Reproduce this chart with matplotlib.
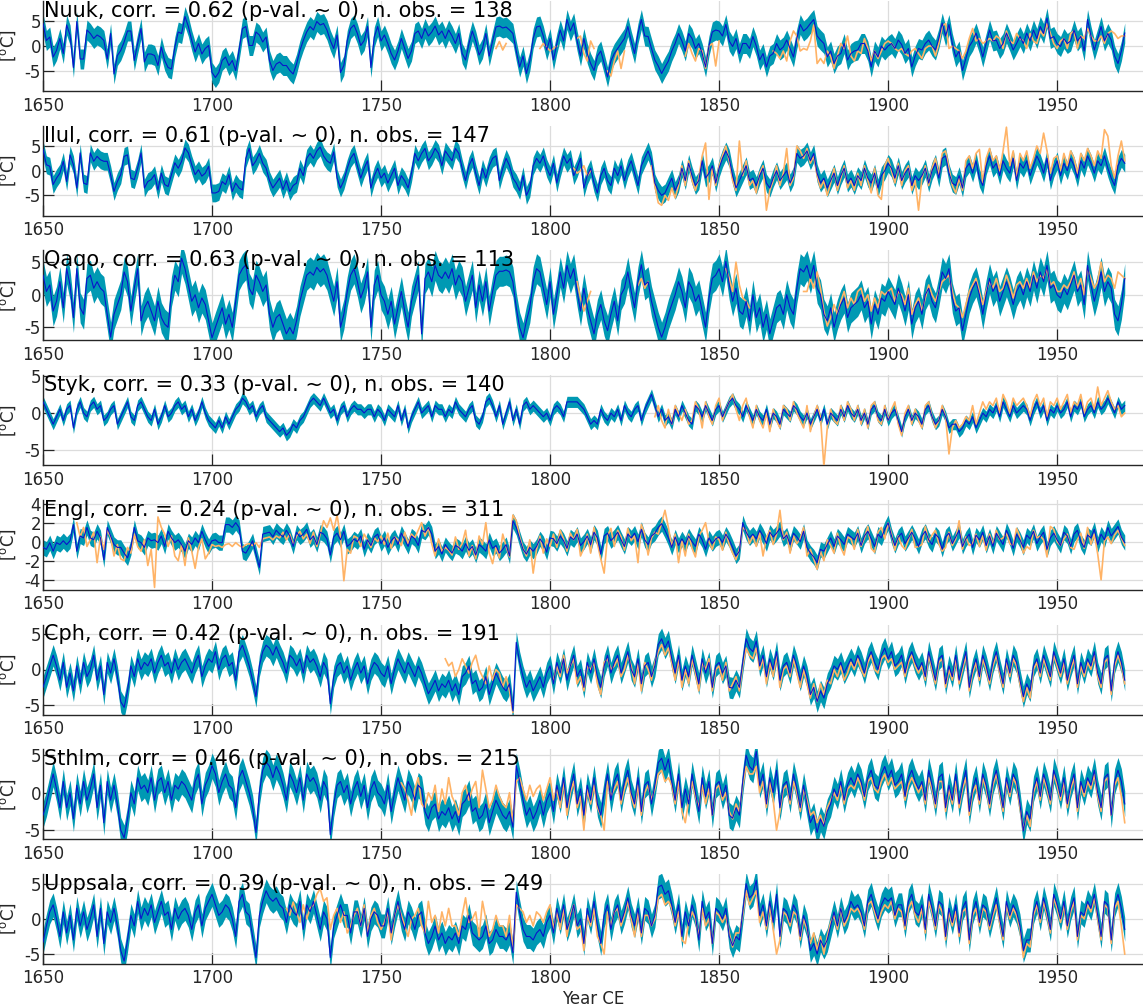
import numpy as np
import matplotlib

matplotlib.use("Agg")
import matplotlib.pyplot as plt

plt.rcParams["axes.unicode_minus"] = False

YEARS = np.arange(1650, 1971)

NAMES = ["Nuuk", "Ilul", "Qaqo", "Styk", "Engl", "Cph", "Sthlm", "Uppsala"]
CORR = [0.62, 0.61, 0.63, 0.33, 0.24, 0.42, 0.46, 0.39]
NOBS = [138, 147, 113, 140, 311, 191, 215, 249]
# half width of the reconstruction uncertainty band [degC]
HALFWIDTH = [2.0, 1.8, 2.3, 0.75, 0.8, 1.5, 1.7, 1.7]
YLIMS = [(-9, 9), (-9.1, 9.1), (-7.0, 6.8), (-7.0, 5.1),
         (-5.05, 4.4), (-6.3, 6.3), (-6.2, 5.8), (-6.4, 6.4)]
YTICKS = [[-5, 0, 5]] * 4 + [[-4, -2, 0, 2, 4]] + [[-5, 0, 5]] * 3
XTICKS = [1650, 1700, 1750, 1800, 1850, 1900, 1950]

# reconstructed anomalies, one value per year 1650..1970
RECON_NUUK = """
4.5 1.1 1.8 -2.2 -0.9 1.5 -1.5 4.2 2.2 -4.3
4.9 -2.6 -2.6 3.2 2.5 1.5 2.2 1.8 1.1 -2.6
2.5 -5.6 -1.9 -0.9 0.8 3.0 3.0 -2.9 0.5 3.5
-3.2 -1.6 -1.6 -1.9 -3.9 -0.2 -2.9 -4.3 -4.6 -0.2
2.8 2.5 5.9 3.9 1.1 -1.2 0.5 -1.6 -0.5 0.1
-5.3 -6.3 -5.3 -2.9 -2.2 -3.9 -2.9 -4.9 -0.9 3.5
3.9 0.1 0.1 2.8 2.2 0.8 1.8 -2.9 -4.9 -3.6
-3.2 -3.9 -3.9 -4.9 -5.6 -3.6 -0.9 1.1 2.8 3.9
3.2 4.9 4.2 4.5 3.2 1.1 -0.5 2.2 -5.3 -3.9
1.1 3.5 4.2 2.5 0.1 1.1 3.9 -4.3 1.8 3.9
1.0 2.2 0.5 -1.5 -2.8 -1.0 1.5 -0.5 -2.5 -1.0
2.5 3.0 1.5 3.5 2.0 2.8 4.0 2.2 3.0 1.5
3.2 2.0 0.5 2.5 -1.5 -2.8 0.5 3.0 1.0 -1.8
-0.5 2.5 -2.0 1.0 3.8 4.0 3.6 3.8 3.2 2.5
-1.0 -4.2 -2.0 -5.5 -3.0 1.5 3.8 4.0 2.0 -0.8
1.5 -2.8 0.5 3.2 1.0 5.3 3.0 4.6 1.0 -2.0
1.5 -1.5 -3.5 -4.9 -2.0 -1.0 -3.5 -6.2 -3.0 -1.5
-0.5 0.5 1.5 3.9 1.0 -1.5 2.5 5.3 2.0 1.9
-0.5 -2.8 -4.0 -5.5 -4.2 -3.0 -1.0 0.5 2.5 1.0
-1.0 2.5 1.5 -0.5 0.5 -1.5 -4.2 0.0 2.8 3.2
3.0 2.0 4.3 1.0 -0.1 1.5 -1.5 0.5 0.5 -0.5
1.9 0.0 -2.8 -1.5 -4.2 -2.0 -1.5 0.5 -0.8 -0.2
1.2 -0.5 -2.2 1.5 4.3 3.0 3.6 4.5 5.3 2.0
1.2 0.5 -2.2 -1.0 -3.5 -2.0 -1.5 0.5 -2.8 -1.5
-1.0 -0.8 0.5 0.5 -1.0 -4.2 -1.0 -2.2 0.0 -0.8
0.0 0.5 -0.5 1.2 0.3 -1.5 -0.5 -4.2 -2.0 -0.5
-0.8 0.5 1.2 0.0 -0.8 1.5 4.6 2.0 4.3 0.5
-2.2 -1.0 -4.9 -2.5 -0.1 1.0 2.6 0.5 -2.2 0.5
3.2 1.0 1.2 -0.5 0.5 2.6 1.0 -0.8 0.5 1.9
0.5 2.6 1.0 3.2 1.5 3.9 2.5 5.6 1.5 1.9
0.5 -0.1 1.5 0.5 1.0 3.2 1.0 1.9 -1.0 5.3
2.0 -0.8 1.5 3.9 1.0 2.5 1.2 -2.0 -3.5 -1.0
2.6
"""

RECON_ILUL = """
4.3 1.2 0.9 -2.8 -1.5 -0.5 1.9 -2.2 3.2 1.2
-3.5 3.6 -2.5 -2.8 3.6 1.9 2.9 2.2 1.9 1.9
-0.8 -4.2 -2.2 -0.8 2.9 3.2 -1.5 -1.8 0.5 3.6
-3.5 -2.2 -1.8 -0.8 -3.9 -0.5 -2.8 -3.2 -0.8 1.6
0.5 1.9 4.6 3.6 1.2 -0.8 0.2 -1.1 -0.5 0.9
-4.5 -4.5 -4.2 -2.2 -2.8 -0.8 -4.2 -2.5 -3.5 -3.9
2.5 4.5 1.0 2.0 3.5 1.5 0.5 -2.0 -3.5 -2.5
-1.5 -3.8 -2.0 -4.2 -3.0 -2.5 0.5 -1.0 2.5 3.5
2.5 4.0 4.8 3.0 2.0 1.5 3.8 -1.5 -3.5 -2.0
0.5 2.5 3.5 1.0 -1.5 0.5 2.0 -3.5 -1.0 0.5
-1.5 -0.5 -2.5 -1.0 0.5 -3.0 -1.0 -2.0 -3.5 -0.5
3.5 2.0 3.5 4.5 2.0 3.0 4.5 3.5 1.0 4.0
3.0 2.0 4.5 3.5 0.5 -2.0 1.0 2.5 -0.5 -3.0
0.5 -1.5 1.0 2.5 3.0 -2.0 0.5 2.5 1.0 -1.5
-2.5 -4.0 -1.0 -5.0 -3.5 1.0 2.5 1.5 3.0 0.5
-1.0 1.5 -2.5 0.5 3.0 1.5 2.5 -1.0 0.5 2.5
-3.5 -1.0 0.5 -2.5 -4.5 -1.0 0.5 -2.0 -3.0 0.5
-1.0 1.0 -2.0 0.5 2.0 -0.5 -3.0 1.0 2.5 4.0
2.0 -2.5 -4.0 -5.0 -4.5 -3.0 -1.5 -4.0 -2.5 0.5
-2.0 1.5 -1.0 -3.0 -2.0 2.0 -1.5 -0.5 1.0 -2.5
0.5 2.5 4.0 2.5 -1.0 -3.5 -2.0 -0.5 1.0 -2.0
-1.5 -3.0 -1.0 0.5 -2.5 -3.5 -1.5 0.0 -2.0 -1.0
0.0 -2.5 -1.0 3.5 2.5 3.0 4.0 2.0 3.5 -0.5
-2.5 -1.5 -3.5 -2.0 -0.5 -3.0 -1.0 0.5 -2.5 -1.5
-3.0 -1.0 -2.0 0.5 -1.5 -2.5 -0.5 -3.5 -1.0 0.0
1.5 0.5 -1.5 1.0 -2.0 -0.5 0.5 -3.0 -1.0 -2.0
-1.0 0.5 -2.5 0.0 1.5 -1.5 2.5 3.0 -0.5 -2.5
-3.0 -1.0 -3.5 0.5 1.5 -0.5 2.0 -1.5 -3.0 1.0
3.0 0.5 1.5 -1.0 2.0 0.5 -0.5 2.5 -2.0 1.5
0.5 2.0 -1.0 1.0 3.0 1.5 -0.5 2.5 -2.0 0.5
2.0 -1.0 1.5 0.0 2.5 1.0 -1.5 2.0 0.5 3.0
1.5 -0.5 2.0 1.0 3.0 0.5 -1.5 -3.0 1.0 2.5
1.5
"""

RECON_QAQO = """
3.0 0.5 1.5 -2.5 -1.0 2.0 -2.0 4.0 1.5 -3.5
4.0 -2.0 -3.0 2.5 3.0 1.0 2.0 1.0 0.5 -3.0
-6.5 -3.0 -1.5 0.0 3.5 2.0 -2.5 1.0 4.0 -4.0
-2.0 -1.0 -2.5 -4.0 -1.0 -3.5 -4.5 -5.0 0.5 3.0
2.0 5.6 4.0 1.5 -1.0 0.0 -2.0 -0.5 -1.5 -4.0
-6.6 -5.0 -3.5 -2.0 -4.5 -3.0 -5.0 -1.0 3.0 4.0
4.6 1.0 0.0 3.0 2.0 0.5 1.5 -3.0 -5.0 -3.5
-3.0 -4.5 -6.0 -5.0 -6.0 -4.0 -1.0 1.0 3.0 3.5
3.0 4.2 3.5 4.0 3.0 1.0 -1.0 2.0 -5.0 -3.0
0.5 3.0 4.0 2.0 -0.5 1.0 3.5 -5.0 1.5 3.0
0.0 -1.0 -3.0 -1.0 -4.5 -2.0 0.5 -2.5 -5.0 -1.0
1.0 3.0 -6.0 2.5 3.5 2.0 4.5 3.0 2.5 3.5
2.5 4.0 1.5 3.0 2.0 -1.0 1.0 3.0 -2.0 1.5
-1.0 2.0 -2.5 0.5 3.0 3.6 3.6 3.8 3.5 2.0
-2.0 -5.0 -6.6 -4.0 -2.0 2.0 4.0 3.5 1.0 -1.5
2.0 -3.0 0.0 3.5 1.0 4.5 2.5 4.0 0.5 -2.5
1.0 -2.0 -4.0 -6.0 -3.0 -1.5 -4.0 -5.5 -3.0 -1.0
-4.0 0.0 1.0 3.5 0.5 -2.0 2.0 4.6 1.5 2.0
-1.0 -3.0 -5.0 -6.5 -5.0 -3.0 -1.5 0.0 2.0 0.5
-2.0 2.0 1.0 -1.0 0.0 -2.5 -5.0 -0.5 2.5 3.0
4.0 2.0 5.1 1.5 -1.0 1.0 -2.5 -3.0 -1.0 -4.0
0.0 -3.5 -2.0 -5.0 -3.0 -6.0 -4.0 -2.0 -1.5 -3.0
0.0 -2.0 -3.0 1.0 4.0 3.5 4.5 2.5 4.5 1.0
0.0 -3.0 -4.0 -2.0 -5.0 -3.0 -1.5 -0.5 -3.5 -2.0
-1.5 -1.0 0.0 -2.0 -1.0 -4.5 -1.5 -3.0 -0.5 -1.0
0.5 -0.5 -1.5 1.0 -0.5 -2.5 0.0 -4.5 -2.0 -1.0
-3.0 0.0 1.0 -1.0 -2.0 0.5 3.5 2.5 4.0 -0.5
-2.5 -2.0 -5.5 -3.0 -0.5 1.0 2.0 0.0 -3.0 0.0
2.5 0.5 1.5 -1.0 0.5 2.0 0.5 -1.5 0.5 1.5
0.0 2.0 0.5 3.0 1.0 3.5 2.0 4.5 1.0 1.5
0.0 -0.5 1.0 0.0 1.5 3.0 0.5 1.5 -1.5 4.5
1.5 -1.0 1.0 3.5 0.5 2.0 1.0 -3.0 -4.0 -1.5
2.5
"""

RECON_STYK = """
1.5 0.5 -0.5 -1.5 -0.5 0.5 -1.0 0.5 1.0 -2.0
0.5 1.5 0.0 -0.5 1.0 1.5 0.5 1.0 -1.0 -0.5
0.5 1.0 -1.5 -0.5 0.5 1.5 -0.5 -1.0 1.0 1.5
0.5 -0.5 -1.0 0.5 -1.5 -0.5 1.0 -0.5 0.0 1.0
1.5 0.5 1.0 -0.5 0.5 -1.0 0.0 1.5 0.0 -1.0
-1.5 -2.0 -1.0 -2.0 -0.5 -1.5 -0.5 0.5 1.0 2.0
1.5 0.5 1.0 -0.5 0.5 1.0 -0.5 -1.0 -1.5 -2.0
-2.5 -2.0 -3.0 -2.5 -1.5 -2.0 -1.0 -0.5 0.5 1.5
2.0 1.5 1.0 2.0 1.0 0.0 0.5 -1.0 0.5 1.0
-0.5 0.5 1.0 0.5 0.5 0.0 0.5 0.5 -0.5 0.5
0.0 -1.0 0.5 0.0 -0.5 1.0 -1.0 0.5 -2.0 -0.5
0.5 1.5 0.0 0.5 1.0 -0.5 1.0 0.5 0.5 -0.5
0.5 0.0 1.5 0.5 0.0 -0.5 0.5 1.0 -1.0 -1.5
-0.5 1.5 2.0 1.0 -0.5 1.0 -1.5 0.0 1.5 -1.0
0.5 -1.5 1.0 1.5 0.5 1.0 0.5 0.0 -0.5 0.0
-1.0 0.5 1.0 0.5 -0.5 1.5 1.5 1.5 1.5 1.0
0.5 -0.5 -1.5 -1.0 -1.5 0.5 -0.5 -1.0 0.0 -0.5
0.5 -1.0 1.0 0.0 -0.5 0.5 1.0 -1.0 0.5 1.5
2.5 1.0 -0.5 0.5 -1.0 -0.5 -1.5 0.5 -0.5 1.0
0.0 -1.0 -1.5 1.0 0.5 -0.5 1.0 0.0 -1.0 0.5
1.0 -0.5 0.5 1.5 2.0 1.0 0.5 -0.5 1.0 0.0
-1.0 0.5 -0.5 -1.0 0.5 -1.5 0.0 -0.5 -1.5 0.5
0.0 -0.5 1.0 0.5 -0.5 -1.0 0.0 -1.5 -0.5 0.5
-1.0 0.5 -1.5 0.0 -0.5 -1.0 0.5 -0.5 1.0 0.0
-0.5 0.5 -1.0 0.0 -1.5 0.5 1.0 -0.5 -1.0 0.5
-1.0 0.0 0.5 -1.0 -2.5 -0.5 0.5 -1.0 0.0 -0.5
-1.5 0.5 1.0 -0.5 -1.5 -1.0 0.5 -0.5 -2.0 -1.5
-1.5 -2.5 -2.0 -1.0 -1.5 -0.5 -2.0 -1.0 0.0 -0.5
0.5 0.0 1.0 -0.5 1.5 0.5 -0.5 1.0 0.0 0.5
1.0 0.5 -1.0 0.5 1.5 0.0 1.0 -1.0 0.5 0.0
1.0 0.0 0.5 1.5 -0.5 1.0 0.5 1.5 -0.5 0.5
1.0 0.0 1.5 0.5 1.0 2.0 1.0 0.0 1.5 0.5
1.0
"""

RECON_ENGL = """
-0.6 -0.8 -0.1 -1.0 -0.1 -0.3 0.1 -0.3 0.1 1.8
-1.0 0.6 0.4 1.5 0.4 0.2 1.1 0.4 -1.9 1.5
0.6 -0.3 -0.6 -0.6 -1.2 -1.7 -0.6 1.5 0.1 -0.1
-0.6 0.4 0.1 0.2 -0.1 0.6 -0.5 1.1 0.4 -0.1
0.2 -0.3 -1.0 0.1 -0.3 0.4 -0.1 1.1 0.2 -0.5
0.1 0.2 -0.1 -0.1 1.8 1.8 1.5 2.0 1.5 -1.0
-1.2 -0.6 0.1 -1.3 -2.7 0.8 0.9 1.0 0.5 1.2
0.8 0.5 1.2 0.6 -0.5 1.0 0.5 0.8 1.3 0.2
0.6 -0.3 1.0 0.8 0.3 -1.4 0.5 0.9 0.2 1.1
-0.5 -0.2 0.3 0.0 0.6 -0.8 0.2 -0.4 0.5 0.8
-0.2 0.4 -0.6 0.1 0.5 -0.3 0.9 0.2 -0.5 0.6
0.3 -0.4 1.2 1.0 1.5 0.8 -1.0 -0.5 -1.3 -0.3
-0.8 -1.2 -0.4 -0.6 -1.0 -0.2 -0.9 -0.5 -1.4 -0.3
-0.6 -1.0 0.2 -0.7 -0.4 -1.2 -0.8 -0.3 -1.5 2.2
1.5 0.3 -0.8 -1.3 -0.6 -1.0 -0.5 0.3 -0.2 -1.1
0.4 0.3 -0.2 0.6 0.1 -0.7 0.5 0.2 0.8 -0.4
0.0 0.6 -0.3 1.0 0.4 -1.3 0.6 0.9 0.1 0.5
1.0 0.2 -0.5 0.8 0.4 0.9 0.0 1.3 0.2 -0.3
0.6 0.9 1.5 1.9 1.2 0.4 -0.6 0.5 -0.4 0.3
-0.3 0.6 0.0 -0.5 0.8 0.2 -0.8 0.4 -0.2 0.3
0.5 -0.1 0.8 0.2 -0.6 -1.5 -1.0 2.0 1.0 0.4
0.8 0.3 1.2 0.6 -0.2 1.0 0.5 0.9 1.4 0.3
0.7 -0.3 0.9 0.5 0.0 1.1 -0.6 -1.2 -1.6 -2.2
-0.8 -1.0 -0.3 0.4 -0.5 0.6 0.2 -0.3 0.8 0.5
0.2 0.9 -0.4 0.6 1.1 0.3 -0.5 0.8 0.4 1.3
2.0 0.6 -0.4 0.5 0.9 -0.2 0.4 1.0 0.3 -0.5
0.6 1.1 0.2 -0.3 0.8 0.4 -0.8 0.5 0.9 -0.2
0.5 1.2 -0.5 0.3 0.8 -0.6 0.7 0.2 1.0 -0.4
0.6 -0.5 0.9 0.3 -0.3 1.2 0.4 -0.7 0.8 0.2
-0.6 0.7 0.3 1.1 -0.2 0.5 1.0 -0.8 0.4 0.9
0.2 -0.4 1.0 0.6 -0.5 0.8 1.2 0.0 -0.6 0.7
0.4 1.3 -0.3 0.8 0.2 1.5 0.6 1.1 1.6 0.5
-0.1
"""

RECON_CPH = """
-2.5 -1.0 0.5 2.0 0.5 -1.5 1.0 -2.5 -0.5 -3.0
0.5 -2.0 1.0 -1.0 0.0 2.0 -1.5 0.5 -3.5 1.0
-0.5 1.5 -1.0 -4.5 -5.3 -3.0 0.5 -1.0 1.5 0.0
1.0 0.5 1.5 -0.5 1.0 2.0 0.5 1.0 -0.5 1.5
0.0 1.0 1.5 0.5 -0.5 1.0 2.0 -1.0 0.5 1.5
1.0 2.5 0.0 1.5 2.0 0.5 1.0 -1.5 2.5 3.4
2.0 0.5 -1.5 -3.8 0.5 2.5 3.4 3.0 2.0 3.2
2.0 1.0 -0.5 2.0 1.5 0.5 1.5 -0.5 2.0 1.0
1.5 0.5 -1.0 1.0 0.0 -4.8 -1.0 0.5 1.0 -0.5
0.5 -1.5 0.0 1.0 -0.5 0.5 -2.0 0.0 1.0 0.5
-0.5 -1.0 0.5 -2.0 0.0 1.5 0.5 -0.5 1.0 0.0
-1.0 0.5 -0.5 -2.0 -3.4 -2.5 -1.5 -3.0 -2.0 -2.5
-1.5 -3.0 -2.0 -3.5 -1.0 -0.5 0.5 -2.0 -1.5 -3.0
-2.5 -1.0 -3.5 -2.0 -0.5 -1.5 -2.5 -3.0 -2.0 -5.8
3.8 1.0 -1.0 -2.5 -1.5 -3.0 -2.0 -1.0 -2.5 -0.5
0.5 -2.0 1.0 -0.5 1.5 -1.5 0.5 2.0 -1.0 0.0
-2.5 1.0 -0.5 1.5 -1.0 -2.5 0.5 2.0 -0.5 1.0
2.0 -0.5 1.0 2.5 0.0 -1.0 1.5 -2.0 0.5 1.0
-1.0 0.5 3.5 4.3 3.0 4.0 1.5 -0.5 2.0 -1.5
0.5 -1.0 2.0 0.0 -2.0 1.5 -0.5 1.0 -2.5 0.5
1.0 -0.5 0.5 -2.5 -2.6 -1.5 -2.5 1.0 4.3 3.0
2.5 4.0 0.5 2.0 -1.0 1.5 0.0 2.5 -1.5 0.5
1.0 -0.5 2.0 0.5 -1.5 0.5 -1.0 -3.5 -2.5 -4.5
-3.0 -4.0 -2.0 -1.0 0.5 0.0 1.0 -0.5 0.5 1.5
0.5 2.0 1.0 -0.5 1.5 2.5 1.0 0.0 2.0 3.0
1.5 2.5 0.5 1.0 2.0 -0.5 1.5 2.5 1.0 0.0
1.0 -1.0 2.5 0.5 -1.5 1.5 2.0 -2.0 0.5 -1.0
2.0 -1.5 0.5 2.5 -2.5 0.0 1.5 -1.0 2.0 0.5
-1.5 1.0 2.5 0.0 -2.0 1.5 -0.5 2.0 1.0 -1.5
-3.8 -2.0 -3.0 0.5 1.5 -0.5 2.0 0.5 -1.0 2.5
1.0 -0.5 1.5 -1.5 0.5 2.0 -2.0 1.0 -0.5 1.5
0.5 2.5 -0.5 -2.0 1.5 2.0 -3.0 1.0 2.5 1.0
-1.5
"""

RECON_STHLM = """
-3.0 -1.5 0.5 2.5 0.5 -2.0 1.5 -2.0 0.0 -3.5
1.0 -1.5 1.5 -1.0 0.5 2.5 -2.0 1.0 -4.0 1.5
-1.0 1.0 -1.5 -5.0 -6.0 -3.5 0.0 -1.5 2.0 0.5
1.0 0.0 2.0 -1.0 1.5 2.0 0.0 1.5 -1.0 1.0
0.5 1.5 1.0 0.0 -1.0 1.5 2.5 -1.5 1.0 2.0
3.6 2.5 0.0 1.5 2.5 1.0 0.5 -2.0 2.0 3.0
1.5 0.0 -2.0 -5.3 0.0 3.0 4.1 3.5 2.0 3.5
2.5 1.0 -1.0 2.5 1.5 0.0 2.0 -1.0 2.5 1.5
2.0 1.0 -1.0 1.5 0.5 -5.6 -1.5 1.0 1.5 0.0
1.0 -1.5 0.5 1.5 -0.5 1.0 -2.0 0.5 1.5 0.0
-0.5 -1.5 1.0 -2.5 0.0 2.0 0.5 -1.0 1.5 0.5
-1.0 1.0 0.5 -2.5 -3.5 -2.0 -1.5 -3.5 -2.5 -3.0
-2.0 -3.5 -2.5 -4.0 -1.5 -1.0 0.0 -2.5 -2.0 -3.5
-3.0 -1.5 -4.0 -2.5 -1.0 -2.0 -3.0 -3.5 -2.5 -4.6
3.6 1.5 -1.0 -3.0 -2.0 -3.5 -2.5 -1.0 -3.0 -1.0
0.0 -2.5 1.0 -1.0 2.0 -2.0 0.5 2.5 -1.5 0.5
-3.0 1.0 -1.0 2.0 -1.5 -3.0 0.0 2.5 -1.0 1.5
2.5 -1.0 1.5 3.0 0.0 -1.5 2.0 -2.5 1.0 1.5
-1.5 1.0 4.0 4.6 3.0 4.5 1.5 -1.0 2.5 -2.0
0.5 -1.5 2.5 0.0 -2.5 2.0 -0.5 1.5 -3.0 1.0
1.5 -0.5 1.0 -3.0 -3.4 -2.0 -3.0 1.5 5.0 3.5
3.0 5.5 1.0 2.5 -1.5 2.0 0.0 3.0 -2.0 1.0
1.5 -1.0 2.5 0.5 -2.0 1.0 -1.5 -4.0 -3.0 -5.3
-3.5 -4.5 -2.5 -1.5 0.5 -0.5 1.5 -1.0 1.0 2.0
1.0 2.5 1.5 -0.5 2.0 3.0 1.0 0.5 2.5 3.5
2.0 3.0 1.0 1.5 2.5 -0.5 2.0 3.0 1.5 0.5
1.5 -1.0 3.0 1.0 -1.5 2.0 2.5 -2.0 1.0 -1.0
2.5 -1.5 1.0 3.0 -2.5 0.5 2.0 -1.0 2.5 1.0
-1.5 1.5 3.0 0.5 -2.0 2.0 0.0 2.5 1.5 -1.5
-5.1 -2.5 -3.5 0.5 2.0 -0.5 2.5 1.0 -1.0 3.0
1.5 -0.5 2.0 -1.5 1.0 2.5 -2.0 1.5 0.0 2.0
1.0 3.0 0.0 -2.0 2.0 2.5 -3.0 1.5 3.0 1.5
-1.5
"""

RECON_UPPSALA = """
-3.3 -1.0 1.0 2.0 0.0 -2.5 1.0 -2.0 0.5 -3.0
1.5 -1.0 1.0 -1.5 0.0 2.0 -2.5 1.5 -3.5 1.0
-0.5 1.5 -1.0 -4.5 -6.0 -3.0 0.5 -1.0 2.5 0.0
1.5 0.5 2.0 -0.5 1.0 2.5 0.5 1.0 -1.5 1.5
0.0 1.0 1.5 0.5 -1.5 1.0 2.0 -1.0 1.5 2.5
3.5 2.0 0.5 1.0 2.0 1.5 0.0 -2.5 2.5 3.5
1.0 0.5 -2.5 -5.5 0.5 2.5 4.0 3.0 2.5 3.0
2.0 1.5 -0.5 2.0 1.0 0.5 2.5 -1.5 2.0 1.0
2.5 0.5 -1.5 1.0 0.0 -5.5 -1.0 0.5 2.0 0.5
0.5 -2.0 1.0 1.0 -1.0 1.5 -2.5 0.0 1.0 0.5
-1.0 -1.0 1.5 -2.0 0.5 2.5 0.0 -1.5 1.0 0.0
-1.5 0.5 1.0 -2.0 -3.5 -2.5 -1.0 -3.0 -2.0 -3.5
-2.5 -3.0 -2.0 -3.5 -1.0 -1.5 0.5 -2.0 -2.5 -3.0
-2.5 -1.0 -3.5 -3.0 -1.5 -2.5 -2.5 -3.0 -2.0 -4.8
3.8 1.0 -1.5 -2.5 -2.5 -3.0 -2.0 -1.5 -2.5 -0.5
0.5 -2.0 1.5 -0.5 2.0 -1.5 0.0 2.0 -1.0 0.0
-3.5 1.5 -0.5 2.5 -1.0 -3.5 0.5 2.0 -1.5 1.0
2.0 -0.5 1.0 3.0 0.5 -1.0 1.5 -2.0 1.5 1.0
-1.0 0.5 4.5 4.8 3.5 4.0 2.0 -0.5 2.0 -2.5
1.0 -1.0 2.0 0.5 -3.0 2.5 0.0 1.0 -3.5 1.5
1.0 0.0 1.5 -2.5 -3.8 -2.5 -3.0 1.0 5.0 3.0
3.5 5.5 0.5 2.0 -1.0 2.5 -0.5 3.5 -2.5 1.5
1.0 -0.5 2.0 1.0 -2.5 0.5 -1.0 -4.5 -3.5 -5.0
-3.0 -4.0 -3.0 -1.0 1.0 -1.0 1.5 -0.5 0.5 2.5
1.5 2.0 1.0 -1.0 2.5 3.5 1.5 0.0 2.0 3.0
2.5 3.0 0.5 2.0 2.0 -1.0 2.5 3.5 1.0 0.5
2.0 -1.5 3.5 1.5 -1.0 2.5 2.0 -2.5 1.5 -0.5
2.0 -2.0 1.5 2.5 -3.0 1.0 2.5 -0.5 2.0 1.5
-1.0 1.0 3.0 0.0 -2.5 2.5 0.5 2.0 1.0 -1.0
-4.5 -3.0 -3.0 1.0 2.5 0.0 3.0 1.0 -1.5 3.5
2.0 0.0 2.5 -1.0 1.5 3.0 -2.5 1.0 0.5 2.5
1.5 3.5 0.5 -2.5 2.5 2.0 -3.0 2.0 3.5 1.5
-1.5
"""

# instrumental observations: (first year, consecutive yearly values)
OBS_NUUK = [
    (1784, "-0.5 0.9 -0.8 0.5"),
    (1797, "-0.5 0.5 -0.2 -1.0 -0.5 0.0"),
    (1808, "1.5 2.0 -1.5 -3.0 1.0 -0.5"),
    (1817, "-5.0 -6.0 -3.0 -1.0 -4.5 -1.0"),
    (1840, "-2.0 0.5 -1.5 -3.0 -0.5 -1.0 -4.5 0.0 0.5 -4.0 1.0"),
    (1866, """-1.0 -1.5 -2.5 -1.0
     -3.0 1.0 3.0 2.0 -1.0 -0.5 -0.8 1.0 4.2 -3.5
     -2.5 -3.5 -1.0 -2.0 -4.5 -2.0 0.5 -0.5 2.0 -2.0
     -3.0 -1.0 -1.5 1.5 -0.5 -3.0 -1.0 -2.5 -1.0 0.5
     1.0 0.5 -0.5 -1.0 -0.5 -1.5 -2.0 -1.0 -0.5 -1.5
     -2.5 -0.5 0.0 0.0 -2.0 0.5 4.0 4.5 -0.5 0.0
     -0.5 -1.0 -2.5 -1.0 1.5 3.5 1.0 1.5 0.5 1.0
     1.5 1.0 2.0 1.5 -0.5 3.0 1.0 0.5 2.5 1.5
     1.0 -0.5 2.5 1.0 0.5 3.0 2.0 4.5 2.5 0.5
     -0.5 1.0 1.5 -0.5 2.5 3.0 -0.5 2.0 1.5 3.5
     2.0 1.0 1.0 2.0 0.5 2.5 3.0 2.5 1.5 2.0
     2.0"""),
]

OBS_ILUL = [
    (1807, "0.5 -0.5 0.0 1.0 -1.0 0.0"),
    (1830, """1.0 -3.0 -6.5 -7.0 -5.0 -6.0 -3.5 -5.5 -3.0 1.0
     -3.0 2.0 -2.0 -4.0 -1.5 3.0 5.6 -5.8 0.5 -3.0
     1.0 3.0 5.0 2.0 -2.0 -4.0 6.0 -1.0 2.0 -3.0
     -2.0 -4.5 -0.5 1.0 -8.0 -4.0 -2.0 1.0 -3.0 -0.5
     4.5 -3.0 -1.5 5.0 4.0 2.5 4.5 1.5 3.0 -1.0
     -3.5 -2.0 -5.0 -2.5 0.5 -4.0 -1.5 1.0 -3.5 -2.0
     -4.0 -0.5 -3.0 1.0 -2.0 -4.5 0.5 -5.0 -5.8 1.0
     2.5 0.0 -2.5 1.5 -3.0 0.0 1.0 -4.0 -2.0 -8.0
     -1.5 1.0 -3.0 0.5 2.5 -1.0 3.5 4.0 0.5 -3.0
     -4.5 -1.5 -4.0 2.0 3.0 0.5 3.5 4.3 -2.5 2.5
     4.5 2.0 3.0 0.0 4.0 8.8 1.0 4.0 -1.5 3.5
     2.0 4.0 0.5 2.5 5.0 3.5 7.6 4.0 -0.5 2.5
     3.0 0.0 3.5 1.0 4.0 2.5 -0.5 3.5 2.0 4.5
     3.0 1.0 4.0 2.5 8.3 7.0 1.0 -1.5 3.0 6.0
     2.0"""),
]

OBS_QAQO = [
    (1808, "2.0 -0.5 -2.5 -1.0 0.5"),
    (1826, "1.5 2.5 1.0 2.0"),
    (1852, "4.0 2.5 0.5 5.0 1.5 -0.5 -1.0 -2.0"),
    (1875, """0.5 0.5 2.5 1.0 3.5
     1.0 -2.5 -4.8 -3.5 -1.5 -3.0 -1.0 0.5 -2.0 -0.5
     -1.5 0.5 1.0 -1.0 0.0 -2.5 -0.5 -2.0 0.5 0.0
     0.5 1.0 -1.0 0.5 0.0 -1.5 1.0 -3.0 -1.5 -0.5
     -2.5 -0.5 1.5 0.0 -1.0 0.5 2.0 2.5 3.0 0.5
     -1.5 -2.0 -3.5 -1.5 0.5 1.5 2.5 0.5 -1.5 0.5
     2.0 1.0 2.5 0.5 1.0 3.0 1.5 -0.5 1.5 2.0
     1.0 2.5 1.0 3.5 2.0 3.0 2.5 4.0 1.5 2.0
     0.5 0.5 1.5 1.0 2.0 3.5 1.0 2.5 0.0 4.0
     2.5 1.0 2.0 5.0 2.0 3.0 2.5 1.0 3.5 3.0
     2.5"""),
]

OBS_STYK = [
    (1831, """-0.5 1.0 -1.0 -2.0 0.5 -1.5 1.0 0.0 -1.0
     0.5 -1.5 -1.0 1.5 0.5 -2.0 1.5 -0.5 -1.5 1.0
     2.0 -1.0 0.5 1.5 2.5 0.5 -1.0 1.0 2.0 -0.5
     -2.0 1.0 -1.0 -2.0 0.0 -2.5 0.5 -1.0 -2.0 1.0
     0.5 -1.0 1.5 0.0 -1.0 -2.0 1.0 -2.5 -0.5 1.0
     -0.5 -7.2 -2.0 0.5 -1.0 -1.5 1.0 -1.0 1.5 0.5
     -1.0 1.0 -1.5 0.5 -2.0 1.0 1.5 -1.0 -1.5 1.0
     -1.0 0.5 1.5 -1.5 -3.0 0.0 1.0 -1.5 0.5 -1.0
     -2.0 1.0 1.5 -0.5 -2.0 -1.0 1.0 -0.5 -5.5 -2.0
     -1.0 -2.0 -1.5 -0.5 -1.0 1.0 -1.5 0.0 1.5 0.5
     1.5 1.0 2.0 0.0 2.5 1.5 0.0 2.0 1.0 1.5
     2.0 1.0 -0.5 1.5 2.5 1.0 2.0 -0.5 1.5 1.0
     2.0 0.5 1.5 2.5 0.0 1.5 1.0 2.5 0.0 1.5
     2.0 0.5 3.5 1.0 2.0 3.0 1.5 0.5 1.0 -0.5
     0.0"""),
]

OBS_ENGL = [
    (1660, """2.0 0.5 1.5 -0.5 0.2 1.0 -2.2 0.5 -0.8 1.2
     0.5 -1.5 -0.3 -1.8 -2.0 -0.6 -1.2 0.8 -0.5 -1.0
     0.2 -2.5 -0.8 -4.8 2.6 1.5 0.8 -0.5 0.6 -1.5
     -2.0 -0.3 -2.5 0.4 -1.0 -2.8 -0.6 0.3 -1.8 -1.2
     -0.3 -0.5 -0.4 -0.6 -0.3 -0.2 -0.5 -0.1 -0.4 -0.6
     -0.3 -0.2 -0.4 -0.1 -0.6 0.3 0.4 0.5 0.2 0.6
     0.4 1.0 0.2 0.8 -0.3 0.6 1.1 0.3 0.8 -0.2
     1.0 -0.5 0.8 2.2 1.5 2.5 1.2 2.8 0.5 -4.1
     -0.8 -1.2 0.6 0.4 -0.5 0.8 0.2 -0.6 0.4 0.0
     0.6 -0.3 0.9 -0.7 0.5 0.2 -0.4 1.0 -0.2 0.8
     0.4 1.2 2.0 0.6 1.5 -0.2 -1.5 0.3 -1.0 -0.6
     -0.9 -1.4 0.5 -0.8 -0.2 1.2 -1.5 -0.4 -1.8 0.6
     -0.3 2.0 -1.2 -2.3 -0.6 -1.7 0.8 -0.5 -1.6 2.8
     2.2 0.5 -0.7 -1.5 0.2 -3.3 -0.8 0.6 -1.2 0.3
     -0.5 0.8 -0.6 1.2 0.3 -1.0 0.9 0.2 1.3 -1.5
     -0.7 0.8 -1.2 1.5 -0.2 -1.8 -3.3 0.6 1.4 -0.5
     1.2 0.5 -0.9 1.4 0.1 0.6 -2.2 1.8 0.8 -1.4
     0.4 1.0 0.8 2.0 3.3 1.5 -0.5 0.8 -2.2 0.1
     -1.5 0.8 -0.7 -1.6 0.6 1.2 2.0 0.0 -0.8 0.5
     0.2 -0.9 1.0 -0.3 -1.2 -1.9 -0.8 1.5 1.2 -0.2
     0.6 -0.5 0.9 -1.5 0.4 1.2 -0.3 0.8 3.3 0.2
     1.0 -1.2 0.6 -0.2 0.3 1.5 -1.5 -0.8 -1.8 -2.9
     -1.0 -2.0 0.2 -0.4 -1.2 0.9 -0.6 -1.4 0.5 0.3
     -0.8 1.3 -0.5 0.4 1.6 -0.7 -1.1 1.0 1.5 0.3
     2.0 0.8 -0.9 0.6 -0.4 -0.8 0.2 1.3 -0.6 -0.5
     -0.3 1.6 0.0 0.7 1.2 -0.2 -1.0 -0.6 1.0 -0.4
     0.3 2.2 -0.8 0.5 -0.4 -0.2 0.8 -0.5 0.6 -0.9
     0.8 -0.3 1.2 0.2 0.4 0.9 -0.2 -0.4 1.4 0.5
     -1.2 -0.5 -0.8 1.2 0.4 0.6 0.2 -1.6 1.6 1.3
     0.0 -0.4 0.3 0.8 -0.6 -0.8 0.2 0.9 -0.7 1.5
     -0.3 0.8 -1.3 -4.0 0.1 0.5 -0.2 0.7 1.2 0.4
     -0.4"""),
]

OBS_CPH = [
    (1769, """1.5 0.5 1.0 -1.0 0.0 1.5 0.5 -0.5 1.0 2.0 0.0
     -1.0 -2.0 0.5 -1.5 0.0 -0.5 -2.5 -1.0 -3.0 -6.0"""),
    (1801, """-1.5 0.5 -1.0 2.0 -0.5 0.5 1.5 -2.0 -1.0
     -3.0 0.5 0.0 1.0 -2.0 -3.5 1.0 1.5 0.0 0.5
     1.5 -1.0 0.0 2.0 0.5 -2.0 1.0 -3.0 1.0 0.0
     -1.5 1.0 2.5 3.5 2.0 3.0 1.0 -1.5 1.5 -2.5
     0.0 -2.0 1.5 -0.5 -3.0 1.0 0.0 1.5 -3.0 0.0
     0.5 -1.5 1.0 -3.0 -2.0 -1.0 -3.0 0.5 3.0 2.0
     1.5 3.0 0.0 1.5 -2.0 1.0 -1.0 2.0 -2.5 0.0
     0.5 -1.0 1.5 -0.5 -2.5 0.0 -2.0 -4.0 -2.0 -4.5
     -2.0 -3.5 -1.5 -2.0 0.0 -1.0 0.5 -1.5 -0.5 1.0
     0.0 1.5 0.0 -1.0 1.0 2.0 0.0 -0.5 1.5 2.0
     1.0 1.5 0.0 0.5 1.0 -1.0 1.0 2.0 0.5 -0.5
     0.5 -1.5 2.0 0.0 -2.0 1.0 1.5 -2.5 0.0 -1.5
     1.5 -2.0 0.0 2.0 -3.0 -0.5 1.0 -1.5 1.5 0.0
     -2.0 0.5 2.0 -0.5 -2.5 1.0 -1.0 1.5 0.5 -2.0
     -4.5 -2.5 -4.0 0.0 1.0 -1.0 1.5 0.0 -1.5 2.0
     0.5 -1.0 1.0 -2.0 0.0 1.5 -2.5 0.5 -1.0 1.0
     0.0 2.0 -1.0 -2.5 1.0 1.5 -3.5 0.5 2.0 0.5
     -2.0"""),
]

OBS_STHLM = [
    (1756, """1.3 0.5 -1.0 -3.0
     0.5 2.0 -1.5 -2.0 0.0 -1.0 1.0 -2.5 0.5 -1.5
     2.0 -0.5 -1.5 -3.0 0.0 1.0 -1.0 0.5 1.5 -2.0
     3.0 0.5 -2.0 -1.0 1.0 -0.5 -1.5 -2.0 0.0 -4.0
     1.5 2.0 0.5 -1.0 1.0 -0.5 0.5 1.0 -1.0 0.5
     2.0 -1.0 0.5 -2.0 1.5 -3.0 0.0 1.5 -2.0 -0.5
     -5.0 0.5 -1.5 1.0 -2.0 -3.0 -5.0 1.5 -0.5 0.5
     1.5 -1.5 0.5 2.0 -0.5 -2.0 1.0 -3.0 0.0 1.0
     -1.0 0.5 2.5 3.0 1.5 2.0 1.0 -1.5 1.5 -2.5
     -4.0 -1.0 1.5 -0.5 -2.0 1.0 -1.5 0.5 -3.0 0.5
     1.0 -1.0 0.0 -2.5 -3.5 -1.5 -2.5 1.0 3.5 2.5
     2.5 3.5 0.0 1.5 -2.0 1.5 -1.0 -5.0 -2.5 0.5
     1.0 -1.5 1.5 0.0 -2.5 0.5 -1.0 -3.0 -2.5 -4.0
     -3.0 -4.4 -2.0 -1.0 0.0 -1.0 1.0 -1.5 0.5 1.0
     0.5 2.0 1.0 -1.0 1.5 2.0 0.5 0.0 1.5 2.5
     1.0 2.0 0.5 1.0 1.5 -1.0 1.0 2.0 1.0 0.0
     1.0 -1.5 2.0 0.5 -2.0 1.5 1.5 -2.5 0.5 -1.5
     1.5 -2.0 0.5 2.0 -3.0 0.0 1.0 -1.5 2.0 0.5
     -2.0 1.0 2.5 0.0 -2.5 1.5 -0.5 2.0 1.0 -2.0
     -5.0 -3.0 -4.5 0.0 1.5 -1.0 2.0 0.5 -1.5 2.5
     1.0 -1.0 1.5 -2.0 0.5 2.0 -2.5 1.0 -0.5 1.5
     0.5 2.5 -0.5 -2.5 1.5 2.0 -3.0 1.0 2.0 -0.5
     -4.0"""),
]

OBS_UPPSALA = [
    (1722, """1.5 0.5 2.4 1.0 -0.5 2.0 0.0 1.5
     2.0 3.5 4.3 2.5 3.0 -1.5 0.5 1.5 -0.5 1.0
     -2.0 -1.0 0.5 1.5 -1.0 2.0 -2.0 0.5 1.5 -0.5
     -1.5 -0.5 1.0 -3.0 0.5 2.0 0.5 -1.0 -2.5 0.0
     0.5 1.5 -1.0 -2.0 2.5 -0.5 0.5 -2.0 1.0 -1.0
     1.5 -1.0 -1.0 -2.5 0.5 3.0 -0.5 0.0 1.0 -2.5
     2.5 0.0 -2.5 -1.5 0.5 -1.0 -1.0 -2.5 0.5 -4.5
     2.0 1.5 1.0 -0.5 0.5 -1.0 1.0 0.5 -0.5 1.0
     2.0 -1.5 1.0 -1.5 1.5 -2.5 0.5 2.0 -1.5 -1.0
     -4.5 0.5 -1.0 1.5 -2.5 -3.5 -5.0 1.0 -1.0 1.0
     1.5 -1.0 0.5 2.5 0.0 -2.5 1.0 -2.5 0.5 0.5
     -1.0 0.0 3.0 3.5 2.0 2.5 1.5 -1.0 1.0 -3.0
     -3.5 -0.5 1.0 0.0 -2.5 1.5 -1.0 0.0 -3.5 1.0
     0.5 -0.5 0.5 -2.0 -4.0 -2.0 -2.0 0.5 4.0 2.0
     3.0 4.0 -0.5 1.0 -1.5 2.0 -1.5 -5.0 -3.0 1.0
     0.5 -1.0 1.0 0.5 -3.0 0.0 -1.5 -3.5 -2.0 -4.5
     -2.5 -5.0 -2.5 -0.5 0.5 -1.5 1.5 -1.0 0.0 1.5
     1.0 1.5 0.5 -1.5 2.0 2.5 1.0 -0.5 1.0 2.0
     1.5 2.5 0.0 1.5 1.0 -1.5 1.5 2.5 0.5 -0.5
     1.5 -2.0 2.5 1.0 -1.5 2.0 1.0 -3.0 1.0 -1.0
     1.0 -2.5 1.0 1.5 -3.5 0.5 1.5 -1.0 1.5 1.0
     -1.5 0.5 2.0 -0.5 -3.0 2.0 0.0 1.5 0.5 -1.5
     -5.5 -3.5 -4.0 0.5 2.0 -0.5 2.5 0.5 -2.0 3.0
     1.5 -0.5 2.0 -1.5 1.0 2.5 -3.0 0.5 0.0 2.0
     1.0 3.0 0.0 -3.0 2.0 1.5 -3.5 1.5 2.5 -1.0
     -5.0"""),
]

RECON = [RECON_NUUK, RECON_ILUL, RECON_QAQO, RECON_STYK,
         RECON_ENGL, RECON_CPH, RECON_STHLM, RECON_UPPSALA]
OBS = [OBS_NUUK, OBS_ILUL, OBS_QAQO, OBS_STYK,
       OBS_ENGL, OBS_CPH, OBS_STHLM, OBS_UPPSALA]

BAND = "#0099b3"
RECON_C = "#0a14cc"
OBS_C = "#ffb366"
INK = "#262626"


def vals(s):
    return np.array(s.split(), dtype=float)


def obs_series(segments):
    out = np.full(YEARS.size, np.nan)
    for start, s in segments:
        v = vals(s)
        i = start - YEARS[0]
        assert i + v.size <= YEARS.size, (start, v.size)
        out[i:i + v.size] = v
    return out


W, H = 1143, 1006
fig = plt.figure(figsize=(W / 100, H / 100), dpi=100)

for k, name in enumerate(NAMES):
    rec = vals(RECON[k])
    assert rec.size == YEARS.size, (name, rec.size)
    obs = obs_series(OBS[k])
    hw = HALFWIDTH[k]

    bottom_px = 91 + 124.7 * k
    ax = fig.add_axes([43 / W, 1 - bottom_px / H, 1100 / W, 90 / H])
    ax.fill_between(YEARS, rec - hw, rec + hw, color=BAND, lw=0, zorder=2)
    ax.plot(YEARS, obs, color=OBS_C, lw=1.2, zorder=3)
    ax.plot(YEARS, rec, color=RECON_C, lw=0.8, zorder=4)

    ax.set_xlim(1650, 1975.4)
    ax.set_ylim(*YLIMS[k])
    ax.set_xticks(XTICKS)
    ax.set_yticks(YTICKS[k])
    ax.grid(True, color="#dcdcdc", lw=0.9)
    ax.set_axisbelow(True)
    for side in ("top", "right"):
        ax.spines[side].set_visible(False)
    for side in ("left", "bottom"):
        ax.spines[side].set_color(INK)
        ax.spines[side].set_linewidth(1.0)
    ax.tick_params(direction="in", length=8, width=0.9, color=INK,
                   labelcolor=INK, labelsize=12)
    ax.tick_params(axis="x", pad=4)
    ax.tick_params(axis="y", pad=1.5)
    ax.set_ylabel("[$^{\\rm o}$C]", fontsize=12, color=INK)
    ax.yaxis.set_label_coords(-0.0225, 0.5)

    title = f"{name}, corr. = {CORR[k]:.2f} (p-val. ~ 0), n. obs. = {NOBS[k]}"
    ax.text(0.001, 1.0, title, transform=ax.transAxes, ha="left", va="top",
            fontsize=15, color="black", zorder=10)

    if k == len(NAMES) - 1:
        ax.set_xlabel("Year CE", fontsize=12, color=INK, labelpad=2)

fig.savefig("out.png", dpi=100)
